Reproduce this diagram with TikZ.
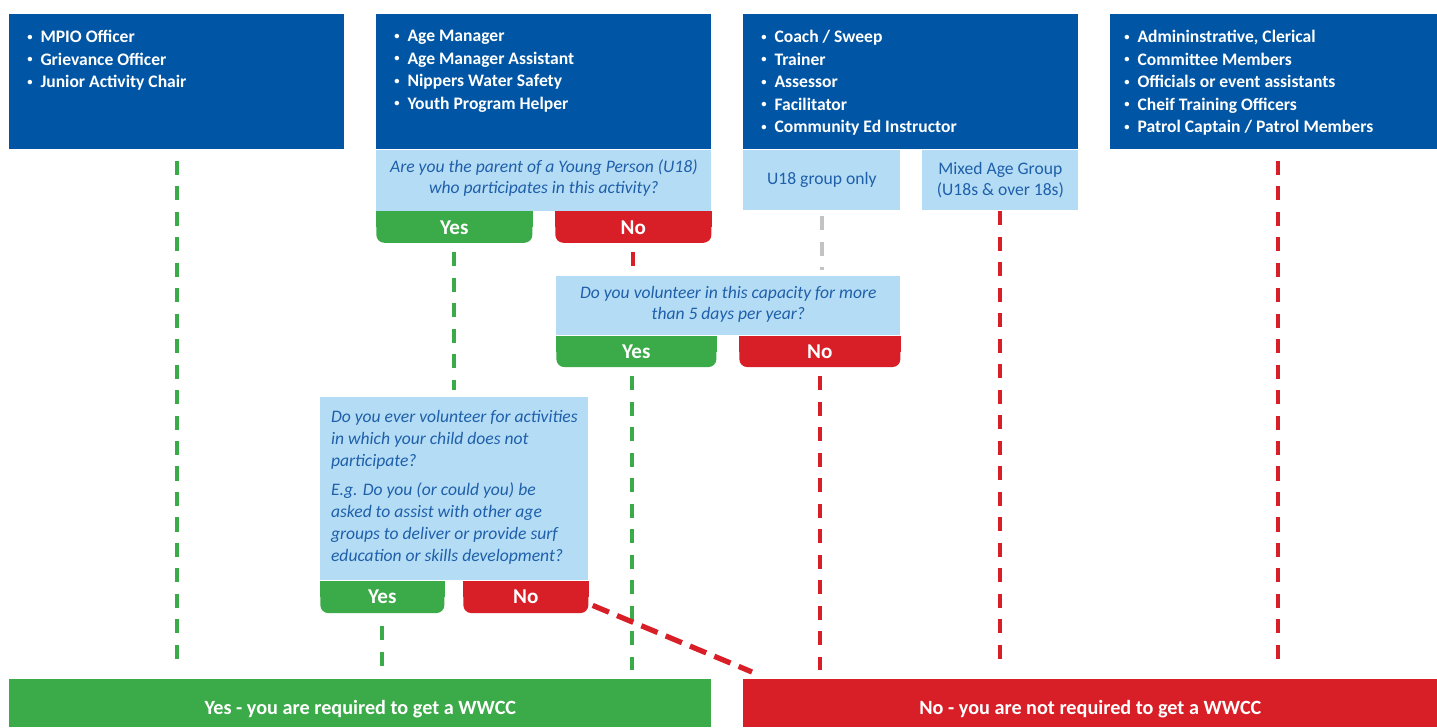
\documentclass[tikz,border=0pt]{standalone}
\usepackage{fontspec}
\setmainfont{Carlito}
\usepackage{tikz}
\usetikzlibrary{positioning, calc, backgrounds}
\definecolor{myblue}{RGB}{0, 86, 164}
\definecolor{mylightblue}{RGB}{180, 221, 245}
\definecolor{mytext}{RGB}{31, 95, 170}
\definecolor{mygreen}{RGB}{59, 170, 72}
\definecolor{myred}{RGB}{216, 30, 38}
\definecolor{mygrey}{RGB}{195, 195, 195}

\newcommand{\rolelist}[1]{\parbox[t][2.06cm][t]{5.98cm}{\fontsize{10}{12.8}\selectfont\bfseries\raggedright #1}}
\newcommand{\bul}{\raisebox{0.14em}{\scalebox{0.6}{\textbullet}}\hspace{0.45em}}

\begin{document}
\begin{tikzpicture}[
    role/.style={fill=myblue, text=white, inner sep=0pt, minimum width=6.7cm, minimum height=2.7cm, anchor=north west},
    ask/.style={fill=mylightblue, text=mytext, inner sep=0pt, font=\fontsize{10}{12}\selectfont\itshape, align=center},
    agebox/.style={fill=mylightblue, text=mytext, inner sep=0pt, minimum height=1.2cm, font=\fontsize{10}{12}\selectfont, align=center},
    yesbtn/.style={fill=mygreen, text=white, rounded corners=4.5pt, inner sep=0pt, minimum height=0.62cm, font=\fontsize{12}{14}\selectfont\bfseries},
    nobtn/.style={yesbtn, fill=myred},
    result/.style={text=white, inner sep=0pt, minimum height=0.96cm, anchor=north west, font=\fontsize{11.5}{14}\selectfont\bfseries},
    link/.style={line width=2.3pt, dash pattern=on 8pt off 6.5pt},
]
    \useasboundingbox (0,0) rectangle (28.74,-14.54);

    % Rollen
    \node[role] (role1) at (0.18,-0.28) {\rolelist{\bul MPIO Officer\\ \bul Grievance Officer\\ \bul Junior Activity Chair}};
    \node[role] (role2) at (7.52,-0.28) {\rolelist{\bul Age Manager\\ \bul Age Manager Assistant\\ \bul Nippers Water Safety\\ \bul Youth Program Helper}};
    \node[role] (role3) at (14.86,-0.28) {\rolelist{\bul Coach / Sweep\\ \bul Trainer\\ \bul Assessor\\ \bul Facilitator\\ \bul Community Ed Instructor}};
    \node[role, minimum width=6.54cm] (role4) at (22.2,-0.28) {\rolelist{\bul Admininstrative, Clerical\\ \bul Committee Members\\ \bul Officials or event assistants\\ \bul Cheif Training Officers\\ \bul Patrol Captain / Patrol Members}};

    % Fragen
    \node[ask, minimum width=6.7cm, minimum height=1.22cm, below=0pt of role2] (askParent) {Are you the parent of a Young Person (U18)\\ who participates in this activity?\\[-7.5pt]};
    \node[yesbtn, minimum width=3.12cm, anchor=north west] (parYes) at (askParent.south west) {Yes};
    \node[nobtn, minimum width=3.12cm, anchor=north east] (parNo) at (askParent.south east) {No};

    \node[agebox, minimum width=3.14cm, anchor=north west] (u18) at (role3.south west) {U18 group only};
    \node[agebox, minimum width=3.12cm, anchor=north east] (mixed) at (role3.south east) {Mixed Age Group\\ (U18s \& over 18s)};

    \node[ask, minimum width=6.88cm, minimum height=1.18cm, anchor=north west] (askDays) at (11.12,-5.52) {Do you volunteer in this capacity for more\\ than 5 days per year?\\[-8.5pt]};
    \node[yesbtn, minimum width=3.2cm, anchor=north west] (dayYes) at (askDays.south west) {Yes};
    \node[nobtn, minimum width=3.22cm, anchor=north east] (dayNo) at (askDays.south east) {No};

    \node[ask, align=left, font=\fontsize{10}{12.6}\selectfont\itshape, minimum width=5.36cm, minimum height=3.66cm, anchor=north west] (askOther) at (6.4,-7.94) {Do you ever volunteer for activities\\ in which your child does not\\ participate?\\[3.7pt] E.g. Do you (or could you) be\\ asked to assist with other age\\ groups to deliver or provide surf\\ education or skills development?\\[-9pt]};
    \node[yesbtn, minimum width=2.48cm, minimum height=0.64cm, anchor=north west] (othYes) at (askOther.south west) {Yes};
    \node[nobtn, minimum width=2.5cm, minimum height=0.64cm, anchor=north east] (othNo) at (askOther.south east) {No};

    % Ergebnis
    \node[result, fill=mygreen, minimum width=14.04cm] (needYes) at (0.18,-13.58) {\raisebox{-6.3pt}[0pt][0pt]{Yes - you are required to get a WWCC}};
    \node[result, fill=myred, minimum width=13.88cm] (needNo) at (14.86,-13.58) {\raisebox{-6.3pt}[0pt][0pt]{No - you are not required to get a WWCC}};

    % eckige Oberkante der Knöpfe
    \begin{scope}[on background layer]
        \foreach \b/\c in {parYes/mygreen, parNo/myred, dayYes/mygreen, dayNo/myred, othYes/mygreen, othNo/myred}
            \fill[\c] (\b.north west) rectangle (\b.east);
    \end{scope}

    % Verbindungen
    \draw[link, mygreen, shorten <=0.22cm, shorten >=0.18cm] (role1.south) -- (role1.south |- needYes.north);
    \draw[link, mygreen, shorten <=0.18cm, shorten >=0.14cm] (parYes.south) -- (parYes.south |- askOther.north);
    \draw[link, myred, shorten <=0.18cm, shorten >=0.12cm] (parNo.south) -- (parNo.south |- askDays.north);
    \draw[link, mygrey, shorten <=0.12cm, shorten >=0.12cm] (u18.south) -- (u18.south |- askDays.north);
    \draw[link, myred, shorten <=0.02cm, shorten >=0.18cm] (mixed.south) -- (mixed.south |- needNo.north);
    \draw[link, myred, shorten <=0.22cm, shorten >=0.18cm] ([xshift=0.09cm]role4.south) -- ([xshift=0.09cm]role4.south |- needNo.north);
    \draw[link, mygreen, shorten <=0.18cm, shorten >=0.18cm] ([xshift=-0.08cm]dayYes.south) -- ([xshift=-0.08cm]dayYes.south |- needYes.north);
    \draw[link, myred, shorten <=0.18cm, shorten >=0.18cm] (dayNo.south) -- (dayNo.south |- needNo.north);
    \draw[link, mygreen, shorten <=0.26cm, shorten >=0.18cm] (othYes.south) -- (othYes.south |- needYes.north);
    \draw[link, myred, line width=3pt, dash pattern=on 10pt off 5pt] ([shift={(0.08,0.16)}]othNo.south east) -- ([shift={(0.18,0.14)}]needNo.north west);
\end{tikzpicture}
\end{document}
